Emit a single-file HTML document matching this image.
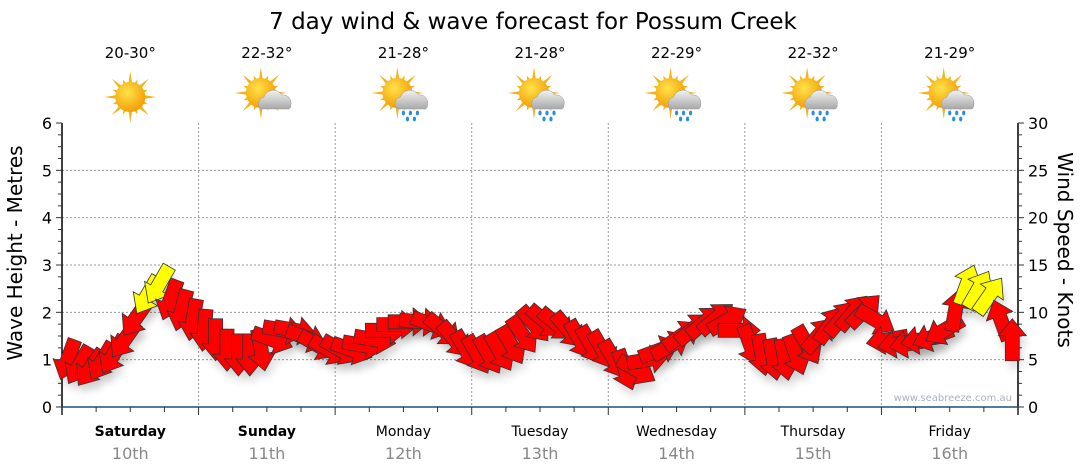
<!DOCTYPE html>
<html><head><meta charset="utf-8"><style>
body{margin:0;background:#fff;font-family:"DejaVu Sans","Liberation Sans",sans-serif;}
svg{display:block;font-family:"DejaVu Sans","Liberation Sans",sans-serif;}
</style></head><body>
<svg id="chart" width="1080" height="475" viewBox="0 0 1080 475" xmlns="http://www.w3.org/2000/svg">
<defs>
<radialGradient id="sunG" cx="0.4" cy="0.35" r="0.7"><stop offset="0" stop-color="#ffe24a"/><stop offset="1" stop-color="#f39a00"/></radialGradient>
<linearGradient id="cloudG" x1="0" y1="0" x2="0" y2="1"><stop offset="0" stop-color="#f2f2f2"/><stop offset="1" stop-color="#a8a8a8"/></linearGradient>
<filter id="sh" x="-50%" y="-50%" width="200%" height="200%"><feGaussianBlur stdDeviation="4"/></filter>
</defs>
<text x="533" y="29" font-size="23" text-anchor="middle" fill="#000">7 day wind &amp; wave forecast for Possum Creek</text>
<g id="icons"></g>
<g id="grid"></g>
<g id="axes"></g>
<g id="arrows"></g>
<text x="1012" y="401" font-size="10" fill="#aab0c0" text-anchor="end">www.seabreeze.com.au</text>
<text transform="translate(22,253) rotate(-90)" font-size="20" text-anchor="middle">Wave Height - Metres</text>
<text transform="translate(1058,250) rotate(90)" font-size="20" text-anchor="middle">Wind Speed - Knots</text>
</svg>
<script>
const days=["Saturday","Sunday","Monday","Tuesday","Wednesday","Thursday","Friday"];
const dates=["10th","11th","12th","13th","14th","15th","16th"];
const temps=["20-30°","22-32°","21-28°","21-28°","22-29°","22-32°","21-29°"];
const iconTypes=["sun","cloud","rain","rain","rain","rain","rain"];
const leftTicks=[0,1,2,3,4,5,6];
const rightTicks=[0,5,10,15,20,25,30];
// wind speed (knots), every 2 hours
const windSpeed=[5.0,4.4,4.1,4.8,5.5,7.1,9.4,11.8,12.9,11.3,10.2,9.2,
8.1,7.1,6.0,5.5,5.5,6.0,7.1,8.1,8.1,7.3,6.5,6.0,
6.0,6.0,6.5,7.1,8.1,8.7,9.0,9.0,8.7,8.1,7.1,6.0,
5.5,5.5,5.8,6.5,7.6,8.7,9.0,8.7,8.1,7.1,6.5,6.0,
5.0,3.9,3.9,5.0,6.0,6.5,7.6,8.3,9.0,9.4,9.2,8.1,
6.5,5.5,5.0,5.0,5.5,6.5,7.6,8.7,9.4,10.0,10.2,9.2,
7.1,6.7,6.7,7.1,7.4,8.1,10.2,12.9,12.4,11.8,9.2,7.1];
// arrow heading (degrees, 0=up, clockwise)
const windDir=[200,210,215,210,210,215,215,210,210,200,195,190,
185,180,180,180,180,170,110,100,100,110,120,120,
120,110,100,100,90,90,90,95,110,130,140,150,
150,150,150,150,145,140,130,130,140,150,150,150,
150,160,120,80,70,60,55,50,50,50,60,90,
160,170,170,170,160,150,40,35,40,40,45,120,
260,260,260,260,250,240,10,20,30,35,340,0];
const windColor=["r","r","r","r","r","r","r","y","y","r","r","r",
"r","r","r","r","r","r","r","r","r","r","r","r",
"r","r","r","r","r","r","r","r","r","r","r","r",
"r","r","r","r","r","r","r","r","r","r","r","r",
"r","r","r","r","r","r","r","r","r","r","r","r",
"r","r","r","r","r","r","r","r","r","r","r","r",
"r","r","r","r","r","r","r","y","y","y","r","r"];
const NS="http://www.w3.org/2000/svg";
const X0=62,X1=1018,Y0=407,Y1=123;
const dayW=(X1-X0)/7;
const yL=v=>Y0-(v/6)*(Y0-Y1);
const yR=v=>Y0-(v/30)*(Y0-Y1);
const xT=i=>X0+(i+0.5)*(X1-X0)/windSpeed.length;
function el(tag,attrs,parent){const e=document.createElementNS(NS,tag);for(const k in attrs)e.setAttribute(k,attrs[k]);parent.appendChild(e);return e;}
const grid=document.getElementById('grid'),axes=document.getElementById('axes'),arrows=document.getElementById('arrows'),icons=document.getElementById('icons');
leftTicks.forEach(v=>{if(v>0&&v<6){const l=el('line',{x1:X0,x2:X1,y1:yL(v),y2:yL(v),stroke:'#999','stroke-dasharray':'2,2','stroke-width':1},grid);

}});
for(let d=1;d<7;d++){const x=X0+d*dayW;const l=el('line',{x1:x,x2:x,y1:Y1,y2:Y0,stroke:'#999','stroke-dasharray':'2,2'},grid);

}
el('line',{x1:X0,x2:X0,y1:Y1,y2:Y0+8,stroke:'#000','stroke-width':1.5},axes);
el('line',{x1:X1,x2:X1,y1:Y1,y2:Y0+8,stroke:'#000','stroke-width':1.5},axes);
el('line',{x1:X0,x2:X1,y1:Y0,y2:Y0,stroke:'#1f4e79','stroke-width':1.5},axes);
for(let k=0;k<=24;k++){const y=Y0-k*(Y0-Y1)/24;const len=k%4===0?6:4;
el('line',{x1:X0-len,x2:X0,y1:y,y2:y,stroke:'#333'},axes);
el('line',{x1:X1,x2:X1+len,y1:y,y2:y,stroke:'#333'},axes);}
for(let k=0;k<=28;k++){const x=X0+k*dayW/4;el('line',{x1:x,x2:x,y1:Y0,y2:Y0+(k%4===0?8:5),stroke:'#333'},axes);}
leftTicks.forEach(v=>{const t=el('text',{x:X0-10,y:yL(v)+6,'font-size':16,'text-anchor':'end'},axes);t.textContent=v;

});
rightTicks.forEach(v=>{const t=el('text',{x:X1+10,y:yR(v)+6,'font-size':16,'text-anchor':'start'},axes);t.textContent=v;

});
days.forEach((d,i)=>{const cx=X0+(i+0.5)*dayW;
const t=el('text',{x:cx,y:436,'font-size':14,'text-anchor':'middle','font-weight':i<2?'bold':'normal'},axes);t.textContent=d;


const t2=el('text',{x:cx,y:459,'font-size':16,'text-anchor':'middle',fill:'#888'},axes);t2.textContent=dates[i];


const t3=el('text',{x:cx,y:58,'font-size':15,'text-anchor':'middle'},icons);t3.textContent=temps[i];


const g=el('g',{transform:`translate(${cx},97)`},icons);


const sx=iconTypes[i]==='sun'?0:-6,sy=iconTypes[i]==='sun'?0:-4;
for(let a=0;a<16;a++){const ang=a*Math.PI/8;const r=a%2?19:26;
el('polygon',{points:`${sx+Math.cos(ang-0.15)*13},${sy+Math.sin(ang-0.15)*13} ${sx+Math.cos(ang)*r},${sy+Math.sin(ang)*r} ${sx+Math.cos(ang+0.15)*13},${sy+Math.sin(ang+0.15)*13}`,fill:'#f2b320'},g);}
el('circle',{cx:sx,cy:sy,r:15,fill:'url(#sunG)'},g);
if(iconTypes[i]!=='sun'){
el('path',{d:'M-6,12 a7,7 0 0 1 3,-12 a10,10 0 0 1 18,-2 a8,8 0 0 1 9,10 a4,4 0 0 1 -2,4 z',fill:'url(#cloudG)',stroke:'#999','stroke-width':0.5},g);
if(iconTypes[i]==='rain'){[[0,16],[7,16],[14,16],[4,22],[11,22]].forEach(p=>el('ellipse',{cx:p[0],cy:p[1],rx:1.6,ry:2.4,fill:'#2a8fd8'},g));}}
});
const arrowPts="0,-21 14,-4 7,-4 7,21 -7,21 -7,-4 -14,-4";
windSpeed.forEach((v,i)=>{const x=xT(i),y=yR(v);
el('polygon',{points:arrowPts,transform:`translate(${x+3},${y+8}) rotate(${windDir[i]})`,fill:'#000',opacity:0.12,filter:'url(#sh)'},arrows);});
windSpeed.forEach((v,i)=>{const x=xT(i),y=yR(v);
const p=el('polygon',{points:arrowPts,transform:`translate(${x},${y}) rotate(${windDir[i]})`,fill:windColor[i]==='y'?'#ffff00':'#ff0000',stroke:'#333','stroke-width':0.8},arrows);

});
</script>
</body></html>
